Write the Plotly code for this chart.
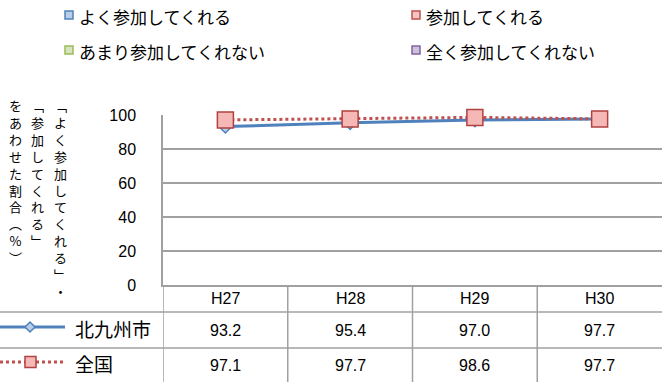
"""Participation rate line chart with data table (北九州市 vs 全国)."""

import plotly.graph_objects as go

# ---- data ----
categories = ["H27", "H28", "H29", "H30"]
series_names = ["北九州市", "全国"]
kitakyushu = [93.2, 95.4, 97.0, 97.7]
zenkoku = [97.1, 97.7, 98.6, 97.7]

legend_labels = ["よく参加してくれる", "参加してくれる", "あまり参加してくれない", "全く参加してくれない"]
legend_lines = ["#4F81BD", "#C0504D", "#9BBB59", "#8064A2"]
legend_fills = ["#B9CDE5", "#F2C4C3", "#D7E4BD", "#CCC1DA"]

y_ticks = [0, 20, 40, 60, 80, 100]
# vertical y-axis title, right column first
y_title_cols = ["﹁よく参加してくれる﹂・", "﹁参加してくれる﹂", "をあわせた割合︵%︶"]

# ---- geometry (pixels) ----
W, H = 662, 382
L, R, T, B = 163, 662, 115, 285
GRID = "#A0A0A0"
JP = "Noto Sans CJK JP"
NUM = "Liberation Sans"


def px(x):
    return (x - L) / (R - L)


def py(y):
    return (B - y) / (B - T)


fig = go.Figure()

fig.add_trace(go.Scatter(
    x=categories, y=kitakyushu, name=series_names[0],
    mode="lines+markers", cliponaxis=False,
    line=dict(color="#4F81BD", width=3),
    marker=dict(symbol="diamond", size=10, color="#B9CDE5",
                line=dict(color="#4F81BD", width=1.5)),
))
fig.add_trace(go.Scatter(
    x=categories, y=zenkoku, name=series_names[1],
    mode="lines+markers", cliponaxis=False,
    line=dict(color="#C0504D", width=3, dash="dot"),
    marker=dict(symbol="square", size=16, color="#F5B8B7",
                line=dict(color="#B0423F", width=1.5)),
))

shapes = []
annotations = []

# legend (top)
leg_pos = [(69, 15), (416, 15), (69, 50), (416, 50)]
for (sx, sy), label, lc, fc in zip(leg_pos, legend_labels, legend_lines, legend_fills):
    shapes.append(dict(type="rect", xref="paper", yref="paper",
                       x0=px(sx - 4), x1=px(sx + 4), y0=py(sy - 4), y1=py(sy + 4),
                       line=dict(color=lc, width=1.5), fillcolor=fc))
    annotations.append(dict(xref="paper", yref="paper", x=px(sx + 8), y=py(sy + 1),
                            xanchor="left", yanchor="middle", showarrow=False,
                            text=label, font=dict(family=JP, size=17, color="#000")))

# vertical y-axis title: one character per line
for cx, col in zip([60, 37, 15], y_title_cols):
    annotations.append(dict(xref="paper", yref="paper", x=px(cx), y=py(94),
                            xanchor="center", yanchor="top", showarrow=False,
                            align="center", text="<br>".join(col),
                            font=dict(family=JP, size=13, color="#000")))

# data table
row_y = [298, 330, 365]
for x0 in [-0.5, 0.5, 1.5, 2.5]:
    shapes.append(dict(type="line", xref="x", yref="paper", x0=x0, x1=x0,
                       y0=py(B), y1=py(H), line=dict(color=GRID, width=1.5)))
for yy in [312, 348]:
    shapes.append(dict(type="line", xref="paper", yref="paper", x0=px(0), x1=1,
                       y0=py(yy), y1=py(yy), line=dict(color=GRID, width=1.5)))

for i, cat in enumerate(categories):
    annotations.append(dict(xref="x", yref="paper", x=cat, y=py(row_y[0]),
                            xanchor="center", yanchor="middle", showarrow=False,
                            text=cat, font=dict(family=NUM, size=16, color="#000")))
    for r, vals in enumerate([kitakyushu, zenkoku]):
        annotations.append(dict(xref="x", yref="paper", x=cat, y=py(row_y[r + 1]),
                                xanchor="center", yanchor="middle", showarrow=False,
                                text=f"{vals[i]:.1f}",
                                font=dict(family=NUM, size=16, color="#000")))

# series keys in the table
for r, name in enumerate(series_names):
    yy = row_y[r + 1] - 3
    annotations.append(dict(xref="paper", yref="paper", x=px(73), y=py(row_y[r + 1] - 2),
                            xanchor="left", yanchor="middle", showarrow=False,
                            text=name, font=dict(family=JP, size=19, color="#000")))
    if r == 0:
        shapes.append(dict(type="line", xref="paper", yref="paper", x0=px(0), x1=px(65),
                           y0=py(yy), y1=py(yy), line=dict(color="#4F81BD", width=3)))
        d = 5
        path = (f"M {px(30)},{py(yy - d)} L {px(30 + d)},{py(yy)} "
                f"L {px(30)},{py(yy + d)} L {px(30 - d)},{py(yy)} Z")
        shapes.append(dict(type="path", xref="paper", yref="paper", path=path,
                           fillcolor="#B9CDE5", line=dict(color="#4F81BD", width=1.5)))
    else:
        shapes.append(dict(type="line", xref="paper", yref="paper", x0=px(0), x1=px(65),
                           y0=py(yy), y1=py(yy),
                           line=dict(color="#C0504D", width=3, dash="dot")))
        shapes.append(dict(type="rect", xref="paper", yref="paper",
                           x0=px(25), x1=px(36), y0=py(yy - 5.5), y1=py(yy + 5.5),
                           fillcolor="#F5B8B7", line=dict(color="#B0423F", width=1.5)))

fig.update_layout(
    width=W, height=H,
    margin=dict(l=L, r=W - R, t=T, b=H - B, pad=0),
    paper_bgcolor="white", plot_bgcolor="white",
    showlegend=False,
    shapes=shapes, annotations=annotations,
    xaxis=dict(type="category", range=[-0.5, 3.5], showticklabels=False,
               showgrid=False, zeroline=False, showline=True,
               linecolor=GRID, linewidth=1.5, ticks=""),
    yaxis=dict(range=[0, 100], tickvals=y_ticks, showgrid=True,
               gridcolor=GRID, gridwidth=1.5, zeroline=False,
               showline=True, linecolor=GRID, linewidth=1.5, ticks="",
               ticklabelstandoff=22,
               tickfont=dict(family=NUM, size=16, color="#000")),
)

# page body has a default 8px margin; drop it so the chart sits at the window origin
fig.write_html("out.html", config={"displayModeBar": False},
               post_script="document.body.style.margin='0';")
